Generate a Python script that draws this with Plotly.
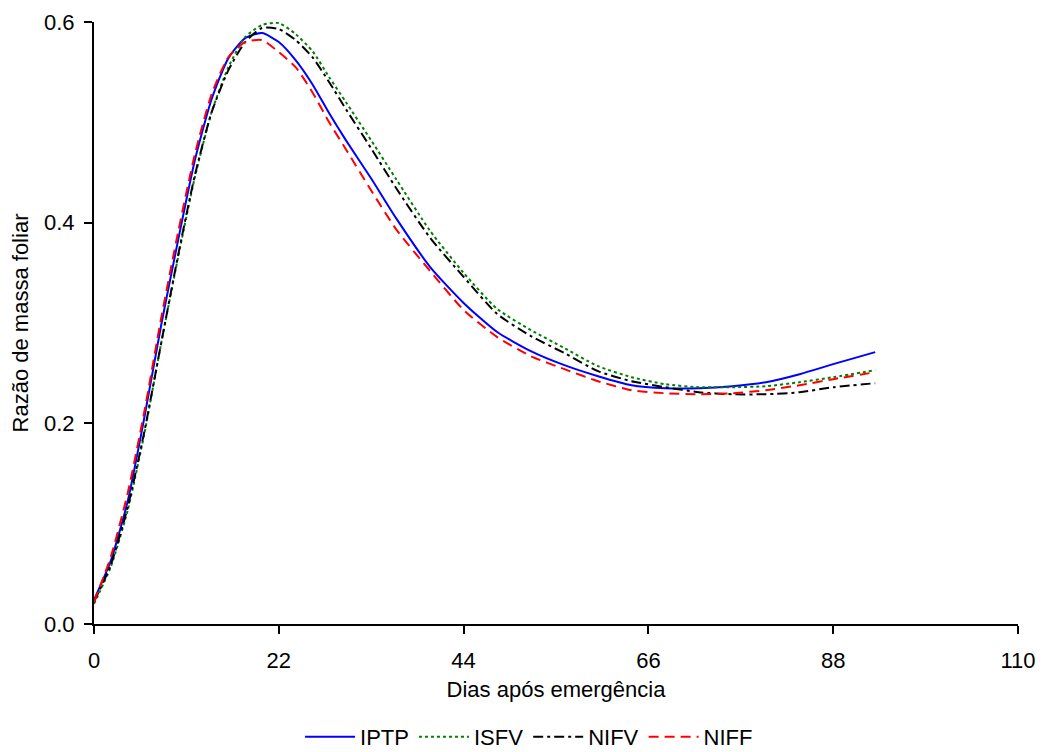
import plotly.graph_objects as go

days = [0, 2, 4, 6, 8, 10, 12, 14, 16, 18, 20, 22, 24, 26, 28, 30, 33, 36, 40, 44,
        48, 52, 56, 60, 64, 68, 72, 76, 80, 84, 88, 93]

iptp = [0.024, 0.063, 0.122, 0.206, 0.298, 0.382, 0.462, 0.523, 0.564, 0.584, 0.589, 0.580,
        0.562, 0.538, 0.509, 0.482, 0.444, 0.404, 0.356, 0.320, 0.291, 0.272, 0.258, 0.247,
        0.238, 0.235, 0.235, 0.237, 0.241, 0.249, 0.259, 0.271]
isfv = [0.020, 0.057, 0.113, 0.190, 0.280, 0.365, 0.445, 0.510, 0.555, 0.585, 0.597, 0.599,
        0.588, 0.571, 0.545, 0.520, 0.482, 0.443, 0.392, 0.350, 0.314, 0.293, 0.275, 0.257,
        0.246, 0.239, 0.236, 0.236, 0.237, 0.241, 0.246, 0.253]
nifv = [0.022, 0.059, 0.116, 0.192, 0.280, 0.367, 0.447, 0.510, 0.552, 0.580, 0.594, 0.593,
        0.582, 0.565, 0.540, 0.513, 0.474, 0.434, 0.385, 0.346, 0.309, 0.287, 0.270, 0.252,
        0.242, 0.236, 0.231, 0.229, 0.229, 0.231, 0.236, 0.240]
niff = [0.022, 0.067, 0.130, 0.212, 0.305, 0.390, 0.468, 0.528, 0.565, 0.580, 0.582, 0.570,
        0.555, 0.530, 0.500, 0.473, 0.432, 0.393, 0.352, 0.313, 0.286, 0.267, 0.254, 0.242,
        0.233, 0.230, 0.229, 0.230, 0.233, 0.238, 0.244, 0.251]

x_ticks = [0, 22, 44, 66, 88, 110]
y_ticks = [0.0, 0.2, 0.4, 0.6]

FONT = "Liberation Sans, Arial, sans-serif"
FS = 22

series = [
    ("IPTP", iptp, "#0000ff", "solid"),
    ("ISFV", isfv, "#008000", "3px,3px"),
    ("NIFV", nifv, "#000000", "10px,4px,3px,4px"),
    ("NIFF", niff, "#ff0000", "10px,6px"),
]

fig = go.Figure()
for name, vals, color, dash in series:
    fig.add_trace(go.Scatter(
        x=days, y=vals, mode="lines", name=name,
        line=dict(color=color, width=2, dash=dash, shape="spline", smoothing=0.6),
    ))

# page body has an 8px default margin, so the figure is sized/offset to compensate
fig.update_layout(
    width=1036, height=744,
    margin=dict(l=86, r=26, t=14, b=128, autoexpand=False),
    paper_bgcolor="white", plot_bgcolor="white",
    font=dict(family=FONT, size=FS, color="black"),
    showlegend=True,
    legend=dict(
        orientation="h", x=0.223, xanchor="left", y=-0.1877, yanchor="middle",
        font=dict(family=FONT, size=FS, color="black"),
        bgcolor="rgba(0,0,0,0)", itemwidth=50, tracegroupgap=0,
    ),
)
fig.update_xaxes(
    range=[0, 110], tickvals=x_ticks, ticktext=[str(v) for v in x_ticks],
    showline=True, linecolor="black", linewidth=2, mirror=False,
    ticks="outside", ticklen=8, tickwidth=2, tickcolor="black",
    showgrid=False, zeroline=False, automargin=False,
    tickfont=dict(size=FS), ticklabelstandoff=8,
    title=dict(text="Dias após emergência", font=dict(size=FS), standoff=9),
)
fig.update_yaxes(
    range=[0, 0.6], tickvals=y_ticks, tickformat=".1f",
    showline=True, linecolor="black", linewidth=2, mirror=False,
    ticks="outside", ticklen=8, tickwidth=2, tickcolor="black",
    showgrid=False, zeroline=False, automargin=False,
    tickfont=dict(size=FS), ticklabelstandoff=5,
    title=dict(text="Razão de massa foliar", font=dict(size=FS), standoff=10),
)

fig.write_html("out.html")
